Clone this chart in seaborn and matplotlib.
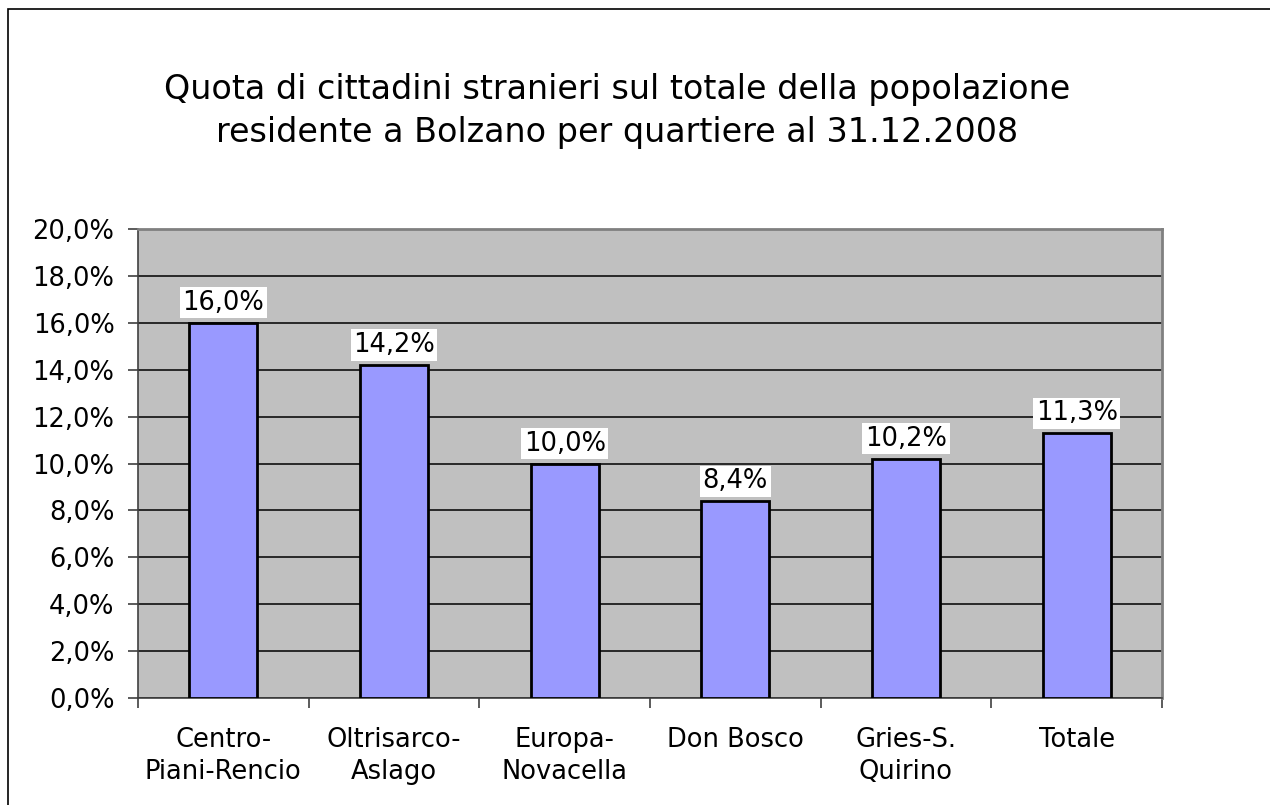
import matplotlib
matplotlib.use("Agg")
import matplotlib.pyplot as plt
from matplotlib.patches import Rectangle
from matplotlib.ticker import FixedLocator, FuncFormatter
import pandas as pd
import seaborn as sns

# chart data
quartieri = ["Centro-\nPiani-Rencio", "Oltrisarco-\nAslago", "Europa-\nNovacella",
             "Don Bosco", "Gries-S.\nQuirino", "Totale"]
quota = [16.0, 14.2, 10.0, 8.4, 10.2, 11.3]
y_ticks = [0, 2, 4, 6, 8, 10, 12, 14, 16, 18, 20]

titolo = ("Quota di cittadini stranieri sul totale della popolazione\n"
          "residente a Bolzano per quartiere al 31.12.2008")


def pct(v, _=None):
    return f"{v:.1f}%".replace(".", ",")


df = pd.DataFrame({"quartiere": quartieri, "quota": quota})

sns.set_style("white")
plt.rcParams["font.family"] = ["DejaVu Sans"]
plt.rcParams["text.color"] = "black"
plt.rcParams["xtick.color"] = "black"
plt.rcParams["ytick.color"] = "black"
plt.rcParams["xtick.labelcolor"] = "black"
plt.rcParams["ytick.labelcolor"] = "black"

fig = plt.figure(figsize=(12.7, 8.05), dpi=100)
ax = fig.add_axes([138 / 1270, 1 - 698 / 805, 1024 / 1270, 469 / 805])

# outer chart-area border (runs off the right and bottom edge)
fig.patches.append(Rectangle((7.5 / 1270, -0.1), 1.2, 1 - 9.5 / 805 + 0.1,
                             transform=fig.transFigure, fill=False,
                             edgecolor="black", linewidth=1.2))

ax.set_facecolor("#C0C0C0")
sns.barplot(data=df, x="quartiere", y="quota", color="#9999FF", width=0.4,
            edgecolor="black", linewidth=2, saturation=1, ax=ax, zorder=3)

ax.set_ylim(0, 20)
ax.set_xlim(-0.5, 5.5)
ax.yaxis.set_major_locator(FixedLocator(y_ticks))
ax.yaxis.set_major_formatter(FuncFormatter(pct))
ax.grid(axis="y", color="black", linewidth=1.1, zorder=1)
ax.set_axisbelow(True)

for sp in ["top", "right"]:
    ax.spines[sp].set_color("#808080")
    ax.spines[sp].set_linewidth(2)
for sp in ["left", "bottom"]:
    ax.spines[sp].set_color("#404040")
    ax.spines[sp].set_linewidth(1.2)

ax.tick_params(axis="y", direction="out", length=7, width=1.2, color="#404040",
               labelsize=18.5, pad=10, left=True)
ax.xaxis.set_minor_locator(FixedLocator([i - 0.5 for i in range(7)]))
ax.tick_params(axis="x", which="major", length=0, labelsize=18.5, pad=21)
ax.tick_params(axis="x", which="minor", direction="out", length=7, width=1.2,
               color="#404040", bottom=True)
for lab in ax.get_xticklabels():
    lab.set_linespacing(1.3)

ax.set_xlabel("")
ax.set_ylabel("")

for i, v in enumerate(quota):
    ax.annotate(pct(v), (i, v), xytext=(0, 5), textcoords="offset points",
                ha="center", va="bottom", fontsize=18.5, zorder=5,
                bbox=dict(boxstyle="square,pad=0.1", facecolor="white",
                          edgecolor="none"))

fig.text(617 / 1270, 1 - 111 / 805, titolo, ha="center", va="center",
         fontsize=24, linespacing=1.42)

fig.savefig("out.png", dpi=100, facecolor="white")
